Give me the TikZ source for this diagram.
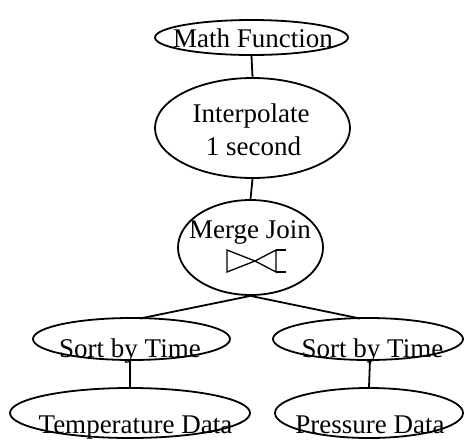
\documentclass[tikz,border=0pt]{standalone}
\usepackage{fontspec}
\setmainfont{Liberation Serif}
\usetikzlibrary{shapes.geometric}
\tikzset{
  opnode/.style={draw, ellipse, line width=1.8pt, inner sep=0pt},
  lbl/.style={anchor=base, inner sep=0pt, font=\fontsize{27}{30}\selectfont},
  link/.style={line width=1.8pt},
  bow/.style={line width=1.3pt, line join=miter}
}
\begin{document}
\begin{tikzpicture}[x=1pt, y=-1pt]
\useasboundingbox (0,0) rectangle (464,440);
% ellipses
\node[opnode, minimum width=193pt, minimum height=35pt] (mf) at (251.5,37.5) {};
\node[opnode, minimum width=195pt, minimum height=100pt] (ip) at (252.5,128) {};
\node[opnode, minimum width=145pt, minimum height=95pt] (mj) at (250.5,247.5) {};
\node[opnode, minimum width=197pt, minimum height=42pt] (s1) at (131.5,339) {};
\node[opnode, minimum width=190pt, minimum height=42pt] (s2) at (368,339) {};
\node[opnode, minimum width=240pt, minimum height=50pt] (td) at (130,413) {};
\node[opnode, minimum width=188pt, minimum height=50pt] (pd) at (369,413) {};
% texts
\node[lbl] (tmf) at (253,47) {Math Function};
\node[lbl] (tip1) at (251,122) {Interpolate};
\node[lbl] (tip2) at (253.5,155) {1 second};
\node[lbl] (tmj) at (250,238) {Merge Join};
\node[lbl] (ts1) at (130,357) {Sort by Time};
\node[lbl] (ts2) at (372.5,357) {Sort by Time};
\node[lbl] (ttd) at (135.5,433) {Temperature Data};
\node[lbl] (tpd) at (370,433) {Pressure Data};
% join symbol
\coordinate (bx) at (255,261);
\draw[bow] (227,250) -- (bx) -- (227,272) -- cycle;
\draw[bow] (bx) -- (276,250) -- (276,272) -- cycle;
\draw[bow] (276,250) -- (286,250) (276,272) -- (286,272);
% connectors
\draw[link] (mf.south) -- (ip.north);
\draw[link] (ip.south) -- (mj.north);
\coordinate (s1top) at (140,318.5);
\coordinate (s2top) at (360,318.5);
\draw[link] (mj.south) -- (s1top);
\draw[link] (mj.south) -- (s2top);
\draw[link] (130,360) -- (td.north);
\draw[link] (370,360) -- (pd.north);
\end{tikzpicture}
\end{document}
